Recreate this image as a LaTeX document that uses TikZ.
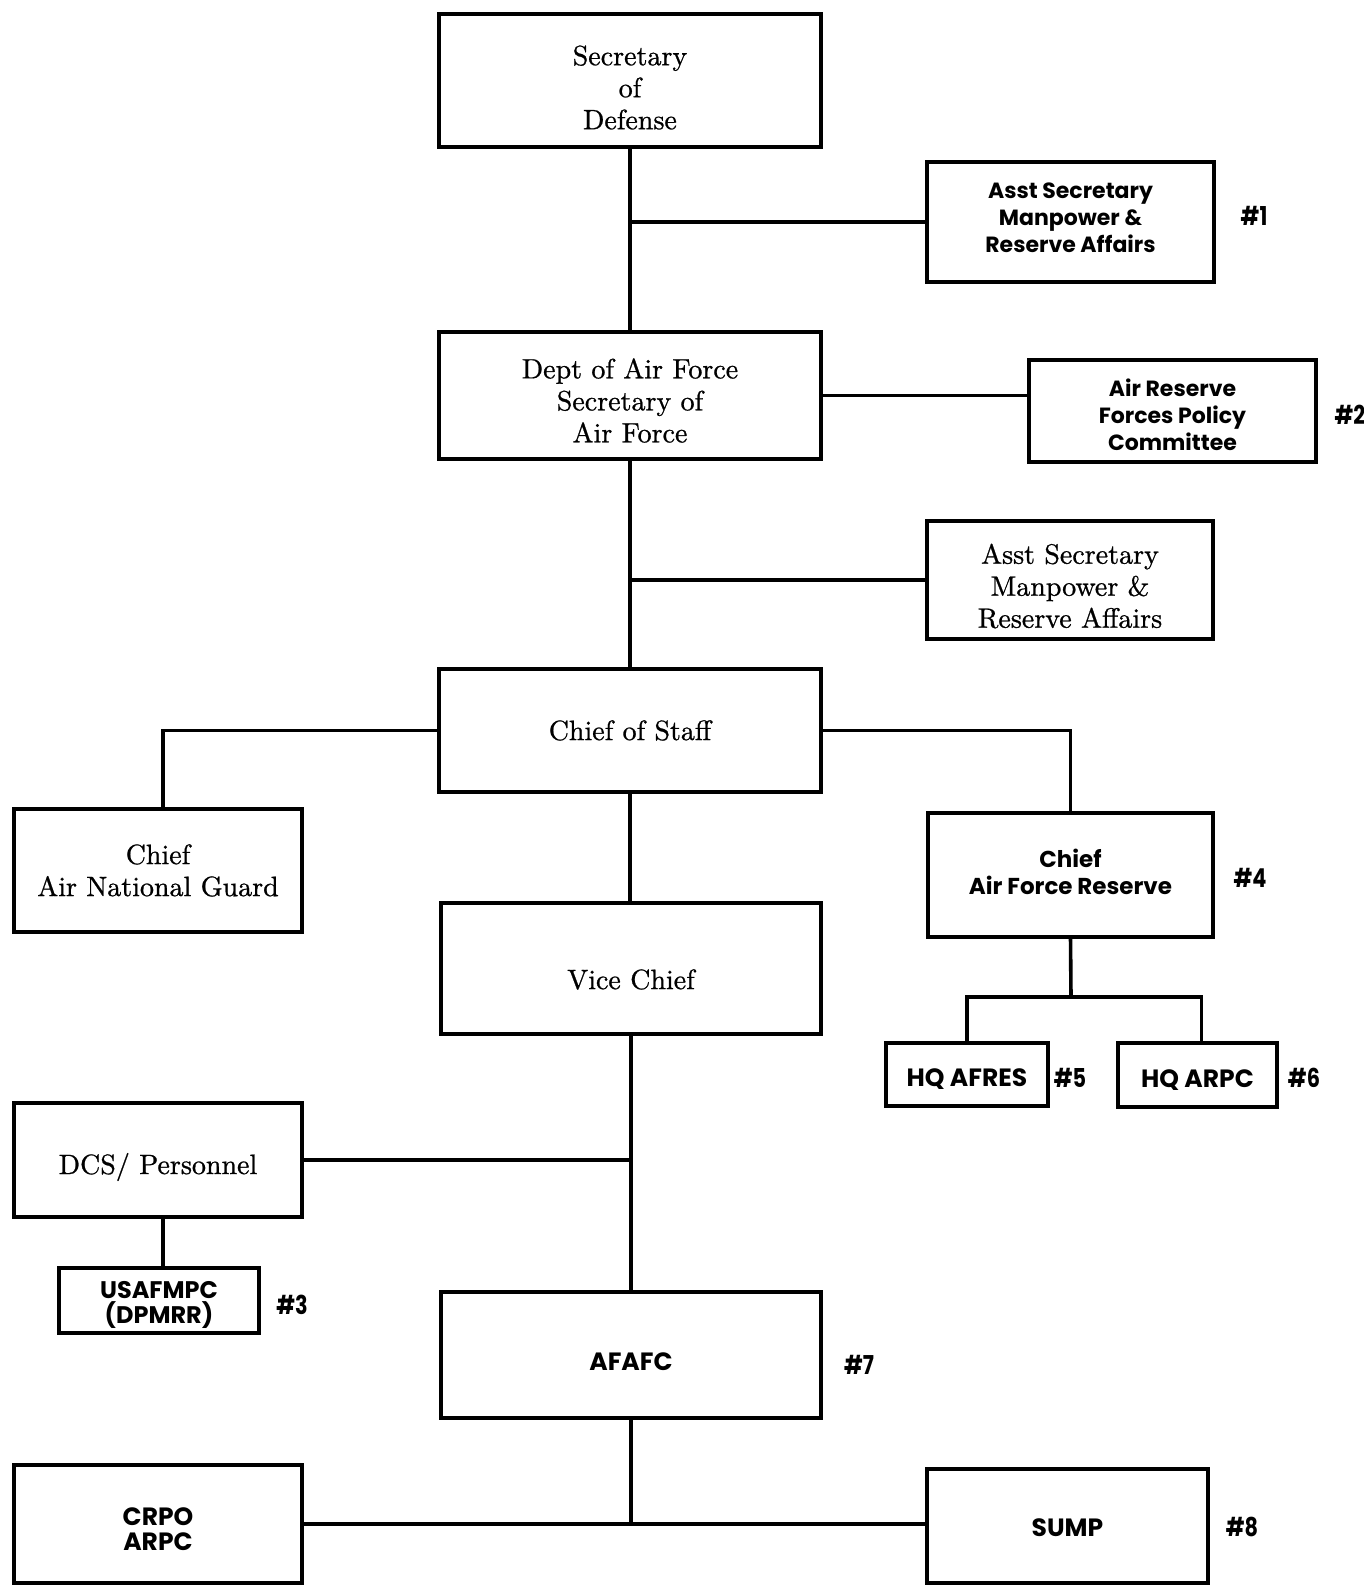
\documentclass[tikz,border=0pt]{standalone}
\usepackage{fontspec}
\newfontfamily\fut{Poppins}
\newfontfamily\futc{Poppins}[FakeStretch=0.8]
\newfontfamily\serb{lmroman10-regular}[Extension=.otf, FakeBold=0.8]
\tikzset{
  box/.style={draw, line width=1.6pt, inner sep=0pt, outer sep=0pt},
  serif/.style={font=\serb\fontsize{14}{16}\selectfont, align=center, inner sep=0pt},
  sansA/.style={font=\fut\bfseries\fontsize{11}{13.5}\selectfont, align=center, inner sep=0pt},
  sansB/.style={font=\fut\bfseries\fontsize{12.5}{12.5}\selectfont, align=center, inner sep=0pt},
  lab/.style={font=\futc\bfseries\fontsize{13}{13}\selectfont, inner sep=0pt},
  conn/.style={line width=1.8pt}
}
\begin{document}
\begin{tikzpicture}[x=0.5pt,y=-0.5pt]
\path[use as bounding box, fill=white] (0,0) rectangle (1364,1585);
% boxes
\node[box,minimum width=191pt,minimum height=66.5pt,label={[serif,yshift=-3.5pt]center:{Secretary\\of\\Defense}}] (sod) at (630,80.5) {};
\node[box,minimum width=143.5pt,minimum height=60pt,label={[sansA,yshift=2pt]center:{Asst Secretary\\Manpower \&\\Reserve Affairs}}] (as1) at (1070.5,222) {};
\node[box,minimum width=191pt,minimum height=63.5pt,label={[serif,yshift=-2.5pt]center:{Dept of Air Force\\Secretary of\\Air Force}}] (daf) at (630,395.5) {};
\node[box,minimum width=143.5pt,minimum height=51pt,label={[sansA,yshift=-2pt]center:{Air Reserve\\Forces Policy\\Committee}}] (arf) at (1172.5,411) {};
\node[box,minimum width=143pt,minimum height=59pt,label={[serif,yshift=-3pt]center:{Asst Secretary\\Manpower \&\\Reserve Affairs}}] (as2) at (1070,580) {};
\node[box,minimum width=191pt,minimum height=61.5pt,label={[serif]center:{Chief of Staff}}] (cos) at (630,730.5) {};
\node[box,minimum width=144pt,minimum height=61.5pt,label={[serif]center:{Chief\\Air National Guard}}] (ang) at (158,870.5) {};
\node[box,minimum width=190pt,minimum height=65.5pt,label={[serif,yshift=-5.5pt]center:{Vice Chief}}] (vc) at (631,968.5) {};
\node[box,minimum width=142.5pt,minimum height=62pt,label={[sansA,font=\fut\bfseries\fontsize{11.5}{13.5}\selectfont,yshift=1.5pt]center:{Chief\\Air Force Reserve}}] (afr) at (1070.5,875) {};
\node[box,minimum width=81pt,minimum height=31.5pt,label={[sansB,yshift=-2.5pt]center:{HQ AFRES}}] (hqa) at (967,1074.5) {};
\node[box,minimum width=79.5pt,minimum height=32pt,label={[sansB,yshift=-2.5pt]center:{HQ ARPC}}] (hqr) at (1197.5,1075) {};
\node[box,minimum width=144pt,minimum height=57pt,label={[serif,yshift=-3.5pt]center:{DCS/ Personnel}}] (dcs) at (158,1160) {};
\node[box,minimum width=100pt,minimum height=32.5pt,label={[sansB,font=\fut\bfseries\fontsize{12}{12.5}\selectfont,yshift=-2pt]center:{USAFMPC\\(DPMRR)}}] (usa) at (159,1300.5) {};
\node[box,minimum width=190pt,minimum height=63pt,label={[sansB,yshift=-3.5pt]center:{AFAFC}}] (afafc) at (631,1355) {};
\node[box,minimum width=144pt,minimum height=59pt,label={[sansB,yshift=-2.5pt]center:{CRPO\\ARPC}}] (crpo) at (158,1524) {};
\node[box,minimum width=140.5pt,minimum height=57pt,label={[sansB,yshift=-1pt]center:{SUMP}}] (sump) at (1067.5,1526) {};
% labels
\node[lab] (l1) at (1254,216) {\#1};
\node[lab] (l2) at (1350,415) {\#2};
\node[lab] (l3) at (292,1305) {\#3};
\node[lab] (l4) at (1250,878) {\#4};
\node[lab] (l5) at (1070,1078) {\#5};
\node[lab] (l6) at (1304,1078) {\#6};
\node[lab] (l7) at (859,1365) {\#7};
\node[lab] (l8) at (1242,1527) {\#8};
% connectors
\coordinate (afrj) at (1071,997);
\coordinate (bj) at (631,1525);
\draw[conn] (sod.south) -- (daf.north);
\draw[conn] (daf.south) -- (cos.north);
\draw[conn] (cos.south) -- (cos.south |- vc.north);
\draw[conn] (vc.south) -- (vc.south |- afafc.north);
\draw[conn] (afafc.south) -- (bj);
\draw[conn] (as1.west) -- (as1.west -| sod.south);
\draw[conn] (daf.east) -- (daf.east -| arf.west);
\draw[conn] (as2.west) -- (as2.west -| daf.south);
\draw[conn] (cos.west) -| ([xshift=2.5pt]ang.north);
\draw[conn] (cos.east) -| (afr.north);
\draw[conn] (afr.south) -- (afrj);
\draw[conn] (hqa.north) |- (afrj) -| ([xshift=2pt]hqr.north);
\draw[conn] (dcs.east) -- (dcs.east -| vc.south);
\draw[conn] ([xshift=2.5pt]dcs.south) -- ([xshift=2.5pt]dcs.south |- usa.north);
\draw[conn] (crpo.east) -- (crpo.east -| sump.west);
\end{tikzpicture}
\end{document}
